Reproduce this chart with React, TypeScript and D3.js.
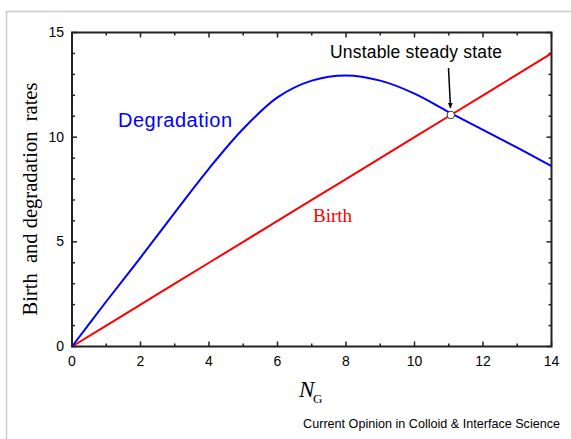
import React from "react"
import * as d3 from "d3"

// values
const nG = [0, 1, 2, 3, 4, 5, 6, 7, 8, 9, 10, 11, 12, 13, 14]
const degradation = [0, 2.15, 4.25, 6.4, 8.5, 10.4, 11.9, 12.7, 12.95, 12.7, 12.08, 11.2, 10.35, 9.5, 8.62]
const birth = [0, 1, 2, 3, 4, 5, 6, 7, 8, 9, 10, 11, 12, 13, 14]
const steadyState = { x: 11.06, y: 11.06 }

const xMajor = [0, 2, 4, 6, 8, 10, 12, 14]
const xMinor = [1, 3, 5, 7, 9, 11, 13]
const yMajor = [0, 5, 10, 15]
const yMinor = [1, 2, 3, 4, 6, 7, 8, 9, 11, 12, 13, 14]

const W = 571
const H = 439
const margin = { top: 32.5, right: 19.5, bottom: 92.5, left: 72 }

const App: React.FC = () => {
  const x = d3.scaleLinear().domain([0, 14]).range([margin.left, W - margin.right])
  const y = d3.scaleLinear().domain([0, 15]).range([H - margin.bottom, margin.top])

  const line = d3.line<[number, number]>()
    .x(d => x(d[0]))
    .y(d => y(d[1]))

  const degPath = line.curve(d3.curveCatmullRom)(nG.map((v, i) => [v, degradation[i]]) as [number, number][])
  const birthPath = d3.line<[number, number]>().x(d => x(d[0])).y(d => y(d[1]))(nG.map((v, i) => [v, birth[i]]) as [number, number][])

  const x0 = x(0), x1 = x(14), y0 = y(0), y1 = y(15)
  const axisColor = "#222"
  const tickFont = "Arial, 'Liberation Sans', sans-serif"
  const serif = "'Times New Roman', 'Liberation Serif', serif"

  const sx = x(steadyState.x), sy = y(steadyState.y)

  return (
    <svg width={W} height={H} style={{ position: "absolute", left: 0, top: 0, background: "#fff" }}>
      <defs>
        <marker id="arrowhead" viewBox="0 0 10 10" refX="10" refY="5" markerWidth="5" markerHeight="7" orient="auto" markerUnits="userSpaceOnUse">
          <path d="M0,0 L10,5 L0,10 z" fill="#000" />
        </marker>
      </defs>
      {/* page frame (only top and left visible) */}
      <path d={`M6.5,${H} V11.5 H${W}`} fill="none" stroke="#ccc" strokeWidth={1.5} />

      {/* ticks, inward on all four sides */}
      <g stroke={axisColor} strokeWidth={1.5}>
        {xMajor.map(v => (
          <g key={"xM" + v}>
            <line x1={x(v)} x2={x(v)} y1={y0} y2={y0 - 5} />
            <line x1={x(v)} x2={x(v)} y1={y1} y2={y1 + 5} />
          </g>
        ))}
        {xMinor.map(v => (
          <g key={"xm" + v}>
            <line x1={x(v)} x2={x(v)} y1={y0} y2={y0 - 3} />
            <line x1={x(v)} x2={x(v)} y1={y1} y2={y1 + 3} />
          </g>
        ))}
        {yMajor.map(v => (
          <g key={"yM" + v}>
            <line x1={x0} x2={x0 + 5} y1={y(v)} y2={y(v)} />
            <line x1={x1} x2={x1 - 5} y1={y(v)} y2={y(v)} />
          </g>
        ))}
        {yMinor.map(v => (
          <g key={"ym" + v}>
            <line x1={x0} x2={x0 + 3} y1={y(v)} y2={y(v)} />
            <line x1={x1} x2={x1 - 3} y1={y(v)} y2={y(v)} />
          </g>
        ))}
      </g>

      {/* tick labels */}
      <g fontFamily={tickFont} fontSize={14} fill="#000">
        {xMajor.map(v => (
          <text key={"xl" + v} x={x(v)} y={y0 + 19} textAnchor="middle">{v}</text>
        ))}
        {yMajor.map(v => (
          <text key={"yl" + v} x={x0 - 8} y={y(v) + 4.5} textAnchor="end">{v}</text>
        ))}
      </g>

      {/* curves */}
      <path d={birthPath || ""} fill="none" stroke="#ff0000" strokeWidth={2} />
      <path d={degPath || ""} fill="none" stroke="#0000ff" strokeWidth={2} />

      {/* frame */}
      <rect x={x0} y={y1} width={x1 - x0} height={y0 - y1} fill="none" stroke={axisColor} strokeWidth={2} />

      {/* steady state marker and annotation */}
      <line x1={sx - 2.3} y1={y(13.3)} x2={sx - 0.3} y2={sy - 7} stroke="#000" strokeWidth={1.5} markerEnd="url(#arrowhead)" />
      <circle cx={sx} cy={sy} r={3.8} fill="#fff" stroke="#333" strokeWidth={1} />
      <text x={416} y={58} textAnchor="middle" fontFamily={tickFont} fontSize={17.5} fill="#000" textLength={172}>Unstable steady state</text>

      <text x={118} y={127} fontFamily={tickFont} fontSize={20} fill="#0000ff" textLength={114}>Degradation</text>
      <text x={313} y={222} fontFamily={serif} fontSize={19} fill="#ff0000">Birth</text>

      {/* axis titles */}
      <text transform={`translate(37, 199) rotate(-90)`} textAnchor="middle" fontFamily={serif} fontSize={20.5} fill="#000" style={{ whiteSpace: "pre" }}>
        {"Birth  and degradation  rates"}
      </text>
      <text x={299} y={397} fontFamily={serif} fontSize={23} fontStyle="italic" fill="#000">N</text>
      <text x={313} y={403} fontFamily={serif} fontSize={13} fill="#000">G</text>

      <text x={560} y={428} textAnchor="end" fontFamily={tickFont} fontSize={12.6} fill="#000">Current Opinion in Colloid &amp; Interface Science</text>
    </svg>
  )
}

export default App
